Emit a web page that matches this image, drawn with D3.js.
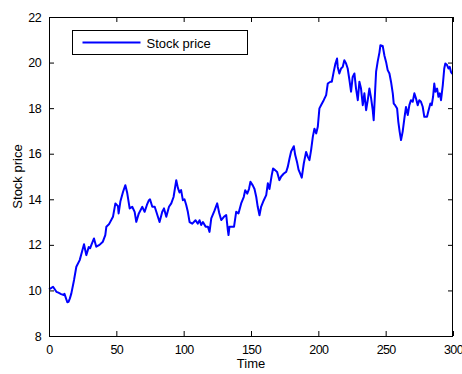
<!DOCTYPE html>
<html>
<head>
<meta charset="utf-8">
<script src="https://cdn.jsdelivr.net/npm/d3@7"></script>
<style>
  html, body { margin: 0; padding: 0; background: #fff; }
  svg { display: block; }
  text { font-family: "Liberation Sans", Arial, sans-serif; fill: #000; }
</style>
</head>
<body>
<svg id="chart" width="462" height="374"></svg>
<script>
// Simulated stock price path
const time = [
  0, 1.5, 3, 5.5, 7, 9, 11, 11.5, 13.6, 14.5, 15.5, 16.6, 18.6, 20.3, 22.8, 24.5, 26, 27.7, 29.5, 30.5,
  31.4, 33.4, 35.1, 37.5, 40, 41.8, 42.6, 44.5, 47.5, 49.3, 51.2, 51.7, 53, 55, 56.7, 58, 59.9, 61.8, 63.6, 64.8,
  66.7, 69.3, 71, 72.7, 74.2, 75, 76.7, 78.5, 79.7, 82.1, 84.1, 85.4, 87.1, 89.1, 90.8, 92.5, 94.5, 95.7, 96.9, 98.1,
  99.4, 100.6, 101.9, 103.1, 104.4, 106.4, 108.8, 110.5, 111.8, 113, 114.3, 116.3, 118, 119.2, 120.5, 122.9, 124.9, 126.4, 127.9, 129.9,
  131.6, 132.8, 133.3, 134, 135.4, 137.4, 139, 140.7, 142.7, 144.6, 145.7, 147.2, 148.5, 149.6, 151.4, 152.6, 153.9, 155, 156.3, 157.5,
  159.5, 161.3, 162.5, 163.7, 165.4, 166.4, 167.9, 169.4, 171.1, 172.4, 174.4, 176.1, 177.3, 178.6, 179.8, 181.8, 182.8, 184.3, 185.3, 186.7,
  187.7, 189.2, 190.9, 192.2, 193.4, 194.6, 195.9, 197.1, 198.4, 199.6, 200.8, 202.1, 204, 205.8, 207, 209, 210, 211.4, 212.7, 213.9,
  214.4, 215.6, 216.9, 218.1, 219.3, 220.6, 221.8, 223.1, 224.3, 225.5, 226.8, 228, 229.3, 230.5, 231.7, 233, 234.2, 235.5, 236.7, 237.9,
  239.2, 240.4, 241.1, 242.2, 242.9, 244.1, 245.4, 246.1, 247.8, 249.1, 250.3, 251.5, 252.8, 254, 255.3, 256, 257, 258.5, 259.4, 260.4,
  261.4, 262.6, 263.9, 265.1, 266.4, 267.6, 268.8, 270.1, 271.3, 272.5, 273.8, 275, 276.2, 277.5, 278.7, 280.7, 281.6, 283.2, 284.2, 285.2,
  286.1, 286.9, 288.2, 289.2, 290.2, 291.1, 292.4, 293.5, 294.3, 295.6, 296.6, 297.6, 298.5, 299.5
];
const price = [
  10.05, 10.1, 10.16, 9.94, 9.9, 9.84, 9.8, 9.85, 9.48, 9.5, 9.65, 9.87, 10.46, 11.04, 11.33, 11.7, 12.03, 11.55, 11.9, 11.85,
  11.99, 12.28, 11.92, 12.0, 12.14, 12.43, 12.8, 12.9, 13.23, 13.82, 13.7, 13.38, 13.9, 14.33, 14.62, 14.3, 13.6, 13.67, 13.45, 13.01,
  13.38, 13.67, 13.45, 13.75, 13.96, 14.0, 13.67, 13.67, 13.45, 13.0, 13.45, 13.6, 13.23, 13.67, 13.82, 14.1, 14.84, 14.5, 14.3, 14.4,
  13.96, 14.0, 13.75, 13.45, 13.0, 12.93, 13.08, 12.93, 13.08, 12.87, 13.0, 12.8, 12.8, 12.57, 13.16, 13.5, 13.82, 13.4, 13.09, 13.23,
  13.31, 12.65, 12.43, 12.8, 12.8, 12.8, 13.45, 13.38, 13.82, 14.1, 14.4, 14.25, 14.45, 14.77, 14.6, 14.45, 14.1, 13.67, 13.3, 13.67,
  13.96, 14.18, 14.7, 14.45, 15.06, 15.35, 15.28, 15.2, 14.84, 15.0, 15.13, 15.2, 15.42, 15.79, 16.1, 16.33, 15.95, 15.6, 15.3, 15.1,
  14.95, 15.57, 16.08, 15.86, 15.72, 16.15, 16.74, 17.1, 16.89, 17.18, 17.99, 18.14, 18.35, 18.57, 19.08, 19.16, 19.16, 19.59, 19.96, 20.18,
  19.81, 19.52, 19.74, 19.81, 20.1, 19.96, 19.74, 19.23, 18.72, 19.37, 19.52, 18.86, 18.35, 19.16, 18.86, 18.13, 18.65, 17.91, 18.35, 18.86,
  18.43, 17.91, 17.47, 18.79, 19.6, 20.05, 20.45, 20.76, 20.73, 20.3, 20.03, 19.67, 19.52, 19.15, 18.64, 18.2, 18.13, 17.98, 17.4, 16.96,
  16.6, 16.96, 17.55, 18.05, 17.7, 18.13, 18.35, 18.28, 18.65, 18.43, 18.13, 18.35, 18.28, 18.06, 17.62, 17.62, 17.84, 18.2, 18.13, 18.5,
  19.08, 18.72, 18.86, 18.5, 18.65, 18.35, 19.0, 19.74, 19.96, 19.89, 19.74, 19.81, 19.59, 19.5
];
const xTicks = [0, 50, 100, 150, 200, 250, 300];
const yTicks = [8, 10, 12, 14, 16, 18, 20, 22];
const seriesName = "Stock price";

const svg = d3.select("#chart");
const plot = { left: 49, right: 453, top: 17, bottom: 336 };

const x = d3.scaleLinear().domain([0, 300]).range([plot.left, plot.right]);
const y = d3.scaleLinear().domain([8, 22]).range([plot.bottom, plot.top]);

const tickLen = 5;

// Axes: bottom/left carry labels, top/right carry inward ticks only
const axisBottom = d3.axisBottom(x).tickValues(xTicks).tickSizeInner(-tickLen).tickSizeOuter(0).tickPadding(9);
const axisLeft = d3.axisLeft(y).tickValues(yTicks).tickSizeInner(-tickLen).tickSizeOuter(0).tickPadding(8);
const axisTop = d3.axisTop(x).tickValues(xTicks).tickSizeInner(-tickLen).tickSizeOuter(0).tickFormat("");
const axisRight = d3.axisRight(y).tickValues(yTicks).tickSizeInner(-tickLen).tickSizeOuter(0).tickFormat("");

function styleAxis(g) {
  g.select(".domain").remove();
  g.selectAll(".tick line").attr("stroke", "#000").attr("stroke-width", 1);
  g.selectAll(".tick text").attr("font-size", 12.5).attr("fill", "#000")
    .style("letter-spacing", "-0.6px")
    .style("font-family", '"Liberation Sans", Arial, sans-serif');
}

svg.append("g").attr("transform", `translate(0,${plot.bottom})`).call(axisBottom).call(styleAxis);
svg.append("g").attr("transform", `translate(${plot.left},0)`).call(axisLeft).call(styleAxis);
svg.append("g").attr("transform", `translate(0,${plot.top})`).call(axisTop).call(styleAxis);
svg.append("g").attr("transform", `translate(${plot.right},0)`).call(axisRight).call(styleAxis);

// Price line
const line = d3.line().x((d, i) => x(time[i])).y(d => y(d));
svg.append("path")
  .datum(price)
  .attr("fill", "none")
  .attr("stroke", "#0000ff")
  .attr("stroke-width", 2)
  .attr("stroke-linejoin", "round")
  .attr("d", line);

// Plot box
svg.append("rect")
  .attr("x", plot.left + 0.5).attr("y", plot.top + 0.5)
  .attr("width", plot.right - plot.left - 1).attr("height", plot.bottom - plot.top)
  .attr("fill", "none").attr("stroke", "#000").attr("stroke-width", 1);

// Legend
const legend = svg.append("g").attr("transform", "translate(72.5,30.5)");
legend.append("rect").attr("width", 175).attr("height", 24)
  .attr("fill", "#fff").attr("stroke", "#000").attr("stroke-width", 1);
legend.append("line").attr("x1", 10).attr("x2", 68).attr("y1", 12).attr("y2", 12)
  .attr("stroke", "#0000ff").attr("stroke-width", 2);
legend.append("text").attr("x", 74).attr("y", 17).attr("font-size", 13).text(seriesName);

// Axis titles
svg.append("text").attr("x", (plot.left + plot.right) / 2).attr("y", 368)
  .attr("text-anchor", "middle").attr("font-size", 13).text("Time");
svg.append("text").attr("transform", `translate(22,${(plot.top + plot.bottom) / 2}) rotate(-90)`)
  .attr("text-anchor", "middle").attr("font-size", 13).text("Stock price");
</script>
</body>
</html>
